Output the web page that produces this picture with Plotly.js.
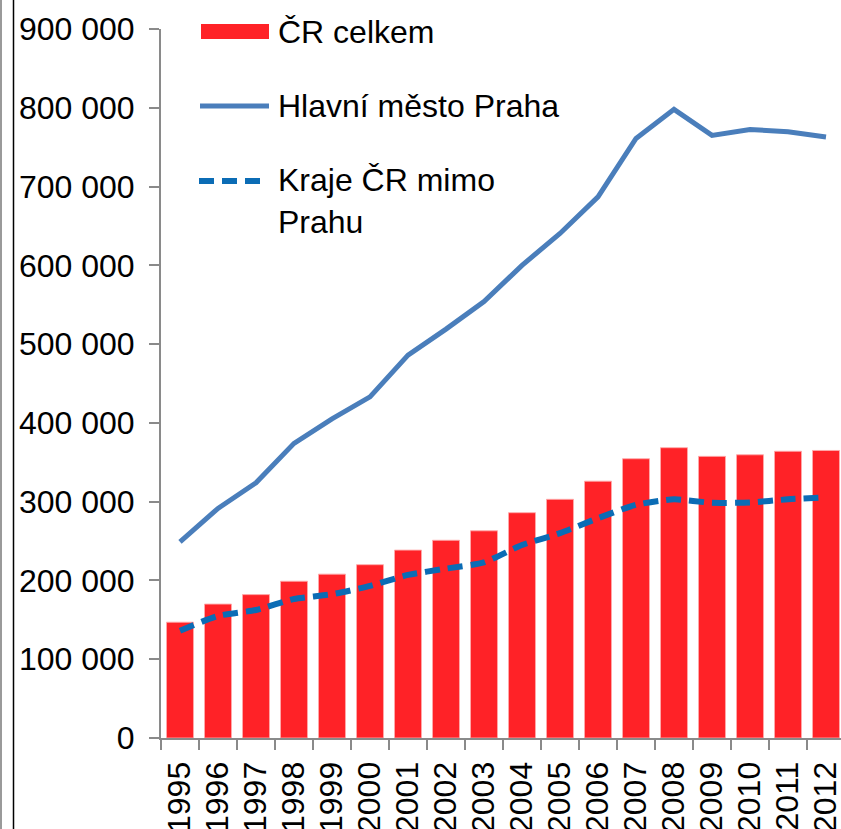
<!DOCTYPE html>
<html>
<head>
<meta charset="utf-8">
<script src="https://cdn.plot.ly/plotly-3.0.1.min.js"></script>
<style>
html, body { margin: 0; padding: 0; overflow: hidden; background: #fff; }
#chart { width: 845px; height: 829px; }
</style>
</head>
<body>
<div id="chart"></div>
<script>
// ---- data ----
const years = ['1995','1996','1997','1998','1999','2000','2001','2002','2003','2004','2005','2006','2007','2008','2009','2010','2011','2012'];
const crCelkem = [147000,170000,182000,199000,208000,220000,238500,251000,263000,286000,303000,326000,354500,368500,357500,359500,364000,365000];
const praha = [249000,291500,324000,374000,405000,433000,486000,519000,554000,600000,640500,687000,761000,798000,765000,772500,769500,763000];
const kraje = [136000,155000,162500,176500,182500,193000,207000,215000,223000,245000,260000,279000,296000,303000,298500,299000,303000,305500];
const seriesNames = ['ČR celkem', 'Hlavní město Praha', 'Kraje ČR mimo<br>Prahu'];

const FONT = 'Liberation Sans, Arial, sans-serif';
const FS = 32;
const RED = '#FF2227';
const BLUE1 = '#4A7EBB';
const BLUE2 = '#0B6CB5';

const traces = [
  {
    type: 'bar', x: years, y: crCelkem, name: seriesNames[0],
    marker: { color: RED, line: { color: 'rgba(255,170,170,0.9)', width: 1 } },
    showlegend: false, hoverinfo: 'x+y'
  },
  {
    type: 'scatter', mode: 'lines', x: years, y: praha, name: seriesNames[1],
    line: { color: BLUE1, width: 5 },
    showlegend: false
  },
  {
    type: 'scatter', mode: 'lines', x: years, y: kraje, name: seriesNames[2],
    line: { color: BLUE2, width: 6, dash: '15px,8px', shape: 'spline', smoothing: 0.6 },
    showlegend: false
  }
];

// plot area: left 161px, width 684px; top 29px, height 709px
const L = 161, W = 684, T = 29, H = 709;
const px = v => (v - L) / W;
const py = v => (T + H - v) / H;

const shapes = [
  // page border lines at far left
  { type: 'line', xref: 'paper', yref: 'paper', x0: px(1), x1: px(1), y0: py(-5), y1: py(835), line: { color: '#9a9a9a', width: 2 } },
  { type: 'line', xref: 'paper', yref: 'paper', x0: px(13.5), x1: px(13.5), y0: py(-5), y1: py(835), line: { color: '#000', width: 1.5 } },
  // legend symbols
  { type: 'rect', xref: 'paper', yref: 'paper', x0: px(201), x1: px(269), y0: py(39), y1: py(24), fillcolor: RED, line: { width: 0 } },
  { type: 'line', xref: 'paper', yref: 'paper', x0: px(200), x1: px(269), y0: py(106), y1: py(106), line: { color: BLUE1, width: 5 } },
  { type: 'line', xref: 'paper', yref: 'paper', x0: px(199), x1: px(263), y0: py(181), y1: py(181), line: { color: BLUE2, width: 6, dash: '15px,8px' } }
];

const annotations = [
  { text: seriesNames[0], y: py(32) },
  { text: seriesNames[1], y: py(106) },
  { text: seriesNames[2], y: py(201) }
].map(a => Object.assign({
  xref: 'paper', yref: 'paper', x: px(276), xanchor: 'left', yanchor: 'middle',
  align: 'left', showarrow: false, font: { family: FONT, size: FS, color: '#000' }
}, a));

const layout = {
  width: 845, height: 829,
  margin: { l: 161, r: 0, t: 29, b: 91, pad: 0 },
  paper_bgcolor: '#fff', plot_bgcolor: '#fff',
  font: { family: FONT, size: FS, color: '#000' },
  separators: ', ',
  bargap: 0.29,
  showlegend: false,
  xaxis: {
    type: 'category', range: [-0.5, 17.5],
    showgrid: false, zeroline: false,
    showline: true, linecolor: '#8a8a8a', linewidth: 2,
    ticks: 'outside', tickson: 'boundaries', ticklen: 10, tickwidth: 2, tickcolor: '#8a8a8a',
    tickangle: -90, ticklabelstandoff: 9,
    tickfont: { family: FONT, size: FS, color: '#000' }
  },
  yaxis: {
    range: [0, 900000], dtick: 100000, tick0: 0, tickformat: ',',
    showgrid: false, zeroline: false,
    showline: true, linecolor: '#8a8a8a', linewidth: 2,
    ticks: 'outside', ticklen: 10, tickwidth: 2, tickcolor: '#8a8a8a',
    ticklabelstandoff: 8,
    tickfont: { family: FONT, size: FS, color: '#000' }
  },
  shapes: shapes,
  annotations: annotations
};

Plotly.newPlot('chart', traces, layout, { displayModeBar: false, staticPlot: true });
</script>
</body>
</html>
